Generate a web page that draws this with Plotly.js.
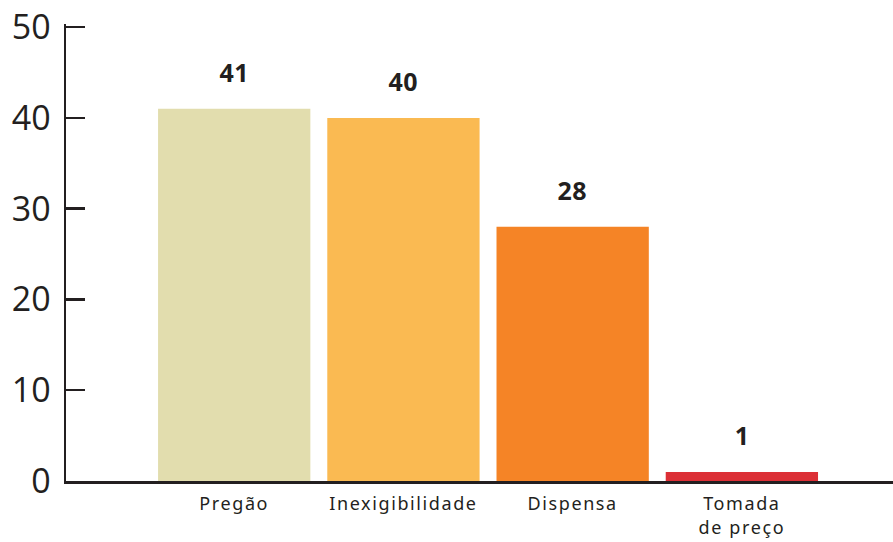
<!DOCTYPE html>
<html>
<head>
<meta charset="utf-8">
<script src="https://cdn.plot.ly/plotly-3.0.1.min.js"></script>
<style>
html,body{margin:0;padding:0;background:#fff;}
#chart{width:893px;height:542px;}
#chart .xtick text{letter-spacing:1.6px;}
#chart .annotation-text{letter-spacing:0.5px;}
</style>
</head>
<body>
<div id="chart"></div>
<script>
const categories = ["Pregão", "Inexigibilidade", "Dispensa", "Tomada<br>de preço"];
const values = [41, 40, 28, 1];
const barColors = ["#E2DDAE", "#FABA52", "#F58426", "#DC2F36"];
const yTicks = [0, 10, 20, 30, 40, 50];

const trace = {
  type: "bar",
  x: categories,
  y: values,
  marker: {color: barColors},
  hoverinfo: "none"
};

const annotations = categories.map((c, i) => ({
  x: c, y: values[i], xref: "x", yref: "y",
  text: "<b>" + values[i] + "</b>",
  showarrow: false, yanchor: "middle", yshift: 37,
  font: {family: "Open Sans, sans-serif", size: 25, color: "#231f20"}
}));

const layout = {
  width: 893, height: 542,
  margin: {l: 66, r: 0, t: 24, b: 61},
  paper_bgcolor: "#fff", plot_bgcolor: "#fff",
  showlegend: false,
  bargap: 0.1,
  xaxis: {
    type: "category",
    range: [-0.994, 3.893],
    showline: true, linecolor: "#231f20", linewidth: 2.5,
    ticks: "", showgrid: false, zeroline: false,
    tickfont: {family: "Noto Sans, sans-serif", size: 18, color: "#231f20"},
    ticklabelstandoff: 5
  },
  yaxis: {
    range: [0, 50.35],
    tickvals: yTicks,
    ticktext: yTicks.map(String),
    showline: true, linecolor: "#231f20", linewidth: 2.5,
    ticks: "inside", ticklen: 19, tickwidth: 2.5, tickcolor: "#231f20",
    showgrid: false, zeroline: false,
    tickfont: {family: "Open Sans, sans-serif", size: 34, color: "#231f20"},
    ticklabelstandoff: 6
  },
  annotations: annotations
};

Plotly.newPlot("chart", [trace], layout, {displayModeBar: false, staticPlot: true});
</script>
</body>
</html>
